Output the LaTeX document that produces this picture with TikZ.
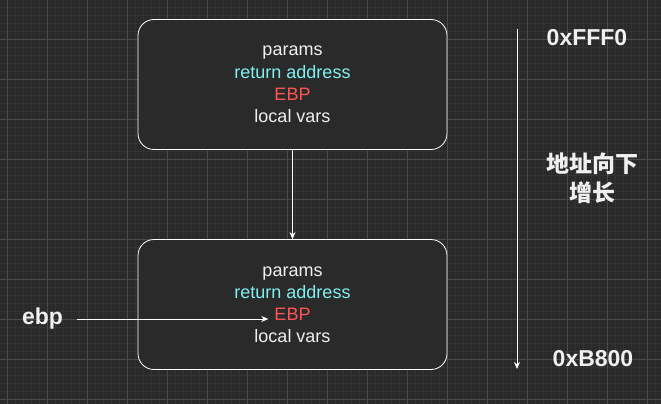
\documentclass[tikz,border=0pt]{standalone}
\usepackage{fontspec}
\setmainfont{Liberation Sans}
\newfontfamily\cjk{Noto Sans CJK SC}
\usetikzlibrary{positioning,arrows.meta}
\definecolor{canvas}{HTML}{2A2A2A}
\definecolor{minorgrid}{HTML}{333333}
\definecolor{majorgrid}{HTML}{4A4A4A}
\definecolor{plain}{HTML}{F0F0F0}
\definecolor{retcyan}{HTML}{80F0F0}
\definecolor{ebpred}{HTML}{FF5555}
\tikzstyle{frame}=[draw=white,fill=canvas,rounded corners=16pt,minimum width=309pt,minimum height=130pt,line width=0.8pt]
\tikzstyle{row}=[inner sep=0pt,text height=13pt,text depth=4pt,font=\fontsize{18}{21}\selectfont]
\tikzstyle{tag}=[inner sep=0pt,text=plain,font=\fontsize{23}{27}\selectfont\bfseries]
\tikzstyle{link}=[draw=white,line width=0.8pt,-{Stealth[length=7pt,width=6pt]}]

\begin{document}
\begin{tikzpicture}[x=1pt,y=-1pt,node distance=4.9pt]
\fill[canvas] (0,0) rectangle (661,404);
\useasboundingbox (0,0) rectangle (661,404);
% grid
\foreach \gx in {7,15,...,655} \draw[minorgrid,line width=0.8pt] (\gx,0) -- (\gx,404);
\foreach \gy in {7,15,...,399} \draw[minorgrid,line width=0.8pt] (0,\gy) -- (661,\gy);
\foreach \gx in {7,47,...,647} \draw[majorgrid,line width=0.8pt] (\gx,0) -- (\gx,404);
\foreach \gy in {39,79,...,399} \draw[majorgrid,line width=0.8pt] (0,\gy) -- (661,\gy);

% upper frame
\node[frame] (frameA) at (292.5,84.5) {};
\node[row,text=retcyan] (retA) at ([yshift=10.7pt]frameA.center) {return address};
\node[row,text=plain,above=of retA] (parA) {params};
\node[row,text=ebpred,inner xsep=6pt,below=of retA] (ebpA) {EBP};
\node[row,text=plain,below=of ebpA] (locA) {local vars};

% lower frame
\node[frame] (frameB) at (292.5,304.5) {};
\node[row,text=retcyan] (retB) at ([yshift=10.7pt]frameB.center) {return address};
\node[row,text=plain,above=of retB] (parB) {params};
\node[row,text=ebpred,inner xsep=6pt,below=of retB] (ebpB) {EBP};
\node[row,text=plain,below=of ebpB] (locB) {local vars};

\draw[link] (frameA) -- (frameB);

\node[tag] (ebptag) at (42.5,319) {ebp};
\draw[link,shorten <=14pt] (ebptag) -- (ebptag -| ebpB.west);

% address direction
\coordinate (hi) at (517,29);
\coordinate (lo) at (517,369);
\draw[link] (hi) -- (lo);
\node[tag] (topaddr) at (587,38) {0xFFF0};
\node[tag] (lowaddr) at (593,359) {0xB800};
\node[tag,align=center,font=\fontsize{23}{29}\selectfont\cjk\bfseries] (grow) at (592,178.5) {地址向下\\增长};
\end{tikzpicture}
\end{document}
